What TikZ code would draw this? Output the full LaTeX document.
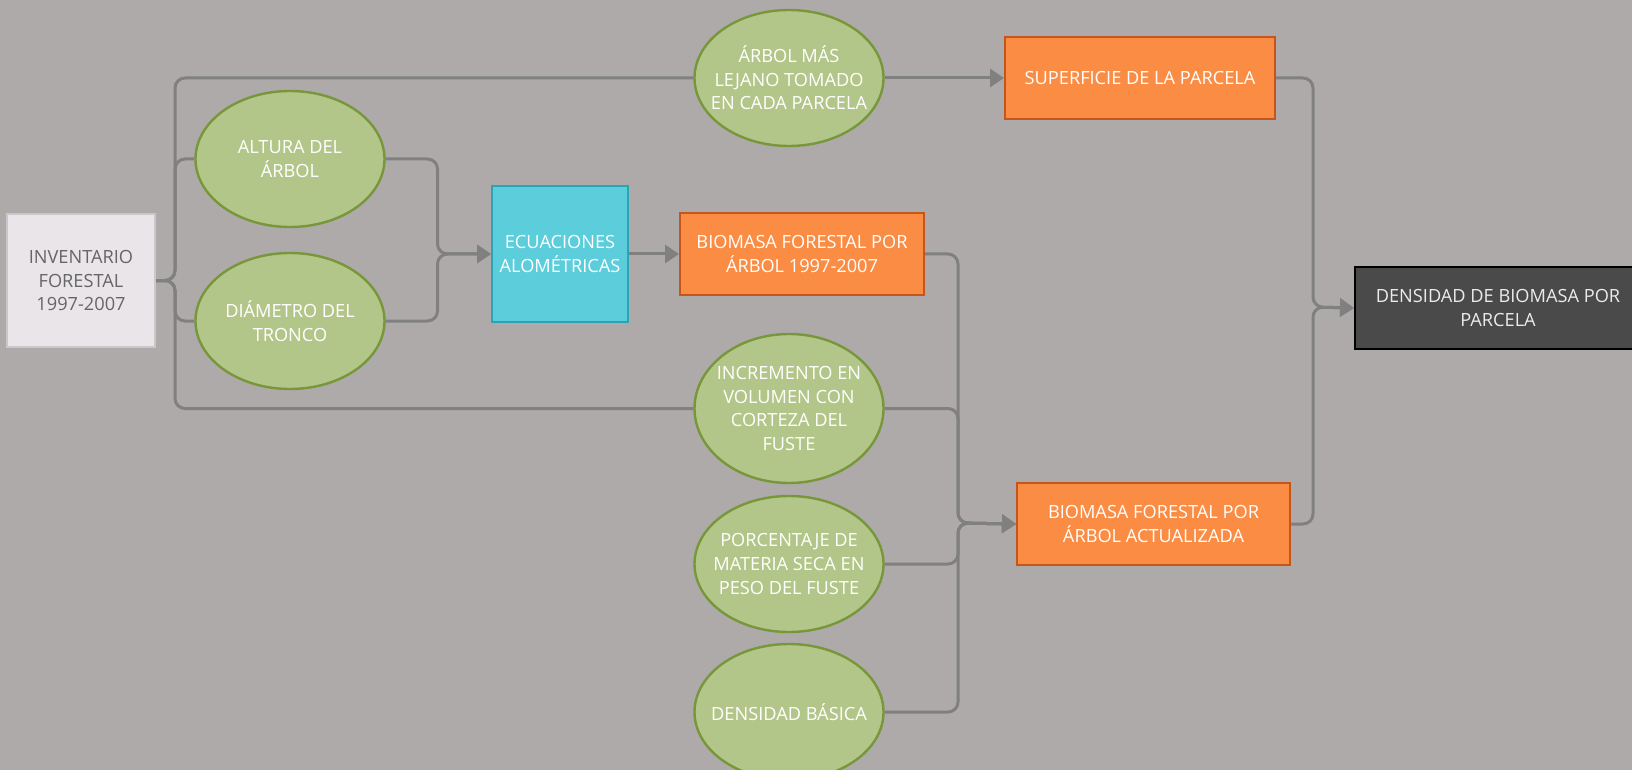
\documentclass[tikz,border=0pt]{standalone}
\usepackage{fontspec}
\setmainfont{Open Sans}
\usetikzlibrary{shapes.geometric,arrows.meta}
\definecolor{bg}{HTML}{AEAAA9}
\definecolor{elfill}{HTML}{B3C689}
\definecolor{eldraw}{HTML}{77973A}
\definecolor{orfill}{HTML}{FB8C44}
\definecolor{ordraw}{HTML}{C4561C}
\definecolor{cyfill}{HTML}{5BCDDB}
\definecolor{cydraw}{HTML}{2BA5B5}
\definecolor{invfill}{HTML}{E9E5E9}
\definecolor{invdraw}{HTML}{CAC6CA}
\definecolor{invtext}{HTML}{666666}
\definecolor{dkfill}{HTML}{4A4A4A}
\definecolor{linec}{HTML}{808080}
\begin{document}
\begin{tikzpicture}[x=0.5pt,y=-0.5pt,
  every node/.style={font=\fontsize{9.1}{11.8}\selectfont, align=center, inner sep=0pt},
  oval/.style={ellipse, fill=elfill, draw=eldraw, line width=1.2pt, text=white, inner xsep=-14pt, inner ysep=-14pt, minimum width=94.5pt, minimum height=68pt},
  orbox/.style={rectangle, fill=orfill, draw=ordraw, line width=1pt, text=white, minimum height=41pt},
  conn/.style={draw=linec, line width=1.5pt, rounded corners=5pt},
  arr/.style={conn, -{Triangle[length=7pt,width=9pt]}}]
\useasboundingbox (0,0) rectangle (1632,770);
\clip (0,0) rectangle (1632,770);
\fill[bg] (0,0) rectangle (1632,770);

% nodes
\node[rectangle, fill=invfill, draw=invdraw, line width=1pt, text=invtext, minimum width=74pt, minimum height=66.5pt] (inv) at (81,280.5) {INVENTARIO\\FORESTAL\\1997-2007};
\node[oval] (alt) at (290,159) {ALTURA DEL\\ÁRBOL};
\node[oval] (dia) at (290,321) {DIÁMETRO DEL\\TRONCO};
\node[rectangle, fill=cyfill, draw=cydraw, line width=1pt, text=white, minimum width=68pt, minimum height=68pt] (ecu) at (560,254) {ECUACIONES\\ALOMÉTRICAS};
\node[orbox, minimum width=122pt] (bio1) at (802,254) {BIOMASA FORESTAL POR\\ÁRBOL 1997-2007};
\node[oval] (lej) at (789,78) {ÁRBOL MÁS\\LEJANO TOMADO\\EN CADA PARCELA};
\node[orbox, minimum width=135pt] (sup) at (1140,78) {SUPERFICIE DE LA PARCELA};
\node[oval, minimum height=74.5pt] (inc) at (789,408.5) {INCREMENTO EN\\VOLUMEN CON\\CORTEZA DEL\\FUSTE};
\node[oval] (por) at (789,564) {PORCENTAJE DE\\MATERIA SECA EN\\PESO DEL FUSTE};
\node[oval] (den) at (789,712) {DENSIDAD BÁSICA};
\node[orbox, minimum width=136.5pt] (bioa) at (1153.5,524) {BIOMASA FORESTAL POR\\ÁRBOL ACTUALIZADA};
\node[rectangle, fill=dkfill, draw=black, line width=1pt, text=white!92!black, minimum width=143pt, minimum height=41pt] (dens) at (1498,308) {DENSIDAD DE BIOMASA POR\\PARCELA};

% junction coordinates
\coordinate (jI) at (175,280.5);
\coordinate (jA) at (437.5,254);
\coordinate (jB) at (958,523);
\coordinate (jC) at (1313,307);

% connectors from inventario
\draw[conn] (inv.east) -- (jI) |- (lej.west);
\draw[conn] (inv.east) -- (jI) |- (alt.west);
\draw[conn] (inv.east) -- (jI) |- (dia.west);
\draw[conn] (inv.east) -- (jI) |- (inc.west);

% to ecuaciones
\draw[arr] (alt.east) -| (jA) -- (ecu.west);
\draw[arr] (dia.east) -| (jA) -- (ecu.west);
\draw[arr] (ecu.east) -- (bio1.west);
\draw[arr] (lej.east) -- (sup.west);

% to biomasa actualizada
\draw[arr] (bio1.east) -| (jB) -- (bioa.west);
\draw[arr] (inc.east) -| (jB) -- (bioa.west);
\draw[arr] (por.east) -| (jB) -- (bioa.west);
\draw[arr] (den.east) -| (jB) -- (bioa.west);

% to densidad
\draw[arr] (sup.east) -| (jC) -- (dens.west);
\draw[arr] (bioa.east) -| (jC) -- (dens.west);
\end{tikzpicture}
\end{document}
